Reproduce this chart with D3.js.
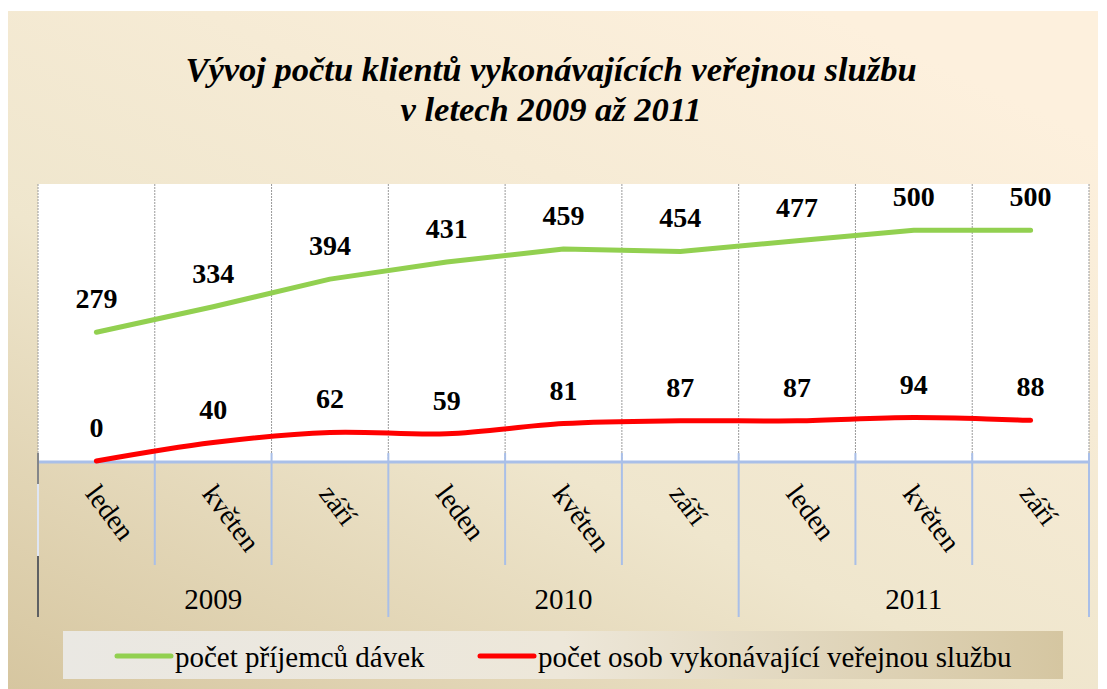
<!DOCTYPE html>
<html>
<head>
<meta charset="UTF-8">
<title>Vývoj počtu klientů</title>
<style>
  body { margin: 0; background: #fff; }
  svg text { font-family: "Liberation Serif", "Times New Roman", serif; }
  .title { font-size: 34.5px; font-weight: bold; font-style: italic; fill: #000; }
  .val { font-size: 28px; font-weight: bold; fill: #000; }
  .month { font-size: 28px; fill: #000; }
  .year { font-size: 29px; fill: #000; }
  .leg { font-size: 29px; fill: #000; }
</style>
<script src="https://d3js.org/d3.v7.min.js"></script>
</head>
<body>
<div id="chart"></div>
<script>
const months = ["leden", "květen", "září", "leden", "květen", "září", "leden", "květen", "září"];
const years = ["2009", "2010", "2011"];
const prijemci = [279, 334, 394, 431, 459, 454, 477, 500, 500];
const osoby = [0, 40, 62, 59, 81, 87, 87, 94, 88];
const seriesNames = ["počet příjemců dávek", "počet osob vykonávající veřejnou službu"];
const seriesColors = ["#92d050", "#ff0000"];

const W = 1107, H = 689;
const plot = { left: 38, right: 1089, top: 184, bottom: 461 };

const svg = d3.select("#chart").append("svg")
  .attr("width", W)
  .attr("height", H);

const defs = svg.append("defs");
const bg = defs.append("linearGradient").attr("id", "bg")
  .attr("x1", "0%").attr("y1", "100%").attr("x2", "75%").attr("y2", "0%");
bg.append("stop").attr("offset", "0%").attr("stop-color", "#d6c6a0");
bg.append("stop").attr("offset", "45%").attr("stop-color", "#efe6cd");
bg.append("stop").attr("offset", "100%").attr("stop-color", "#fdf0dd");

const lg = defs.append("linearGradient").attr("id", "leg")
  .attr("x1", "0%").attr("y1", "0%").attr("x2", "100%").attr("y2", "0%");
lg.append("stop").attr("offset", "0%").attr("stop-color", "#eae8e3");
lg.append("stop").attr("offset", "50%").attr("stop-color", "#ede7d9");
lg.append("stop").attr("offset", "100%").attr("stop-color", "#d5c6a1");

// chart area
svg.append("rect")
  .attr("x", 8).attr("y", 11)
  .attr("width", 1090).attr("height", 678)
  .attr("fill", "url(#bg)");

// plot area
svg.append("rect")
  .attr("x", plot.left).attr("y", plot.top)
  .attr("width", plot.right - plot.left).attr("height", plot.bottom - plot.top)
  .attr("fill", "#fff");

// title
const title = svg.append("text").attr("class", "title").attr("text-anchor", "middle");
title.append("tspan").attr("x", 551).attr("y", 81).text("Vývoj počtu klientů vykonávajících veřejnou službu");
title.append("tspan").attr("x", 551).attr("y", 121).text("v letech 2009 až 2011");

const x = d3.scaleBand()
  .domain(d3.range(months.length))
  .range([plot.left, plot.right]);

const y = d3.scaleLinear()
  .domain([0, 600])
  .range([plot.bottom, plot.top]);

// dotted vertical gridlines
const bounds = d3.range(months.length + 1).map(i => plot.left + i * x.step());
svg.append("g").selectAll("line")
  .data(bounds)
  .enter().append("line")
  .attr("x1", d => d).attr("x2", d => d)
  .attr("y1", plot.top).attr("y2", plot.bottom)
  .attr("stroke", "#9a9a9a")
  .attr("stroke-width", 1)
  .attr("stroke-dasharray", "2,1");

// category axis
const axisCol = "#a9bfe8";
svg.append("line")
  .attr("x1", plot.left).attr("x2", plot.right)
  .attr("y1", plot.bottom + 1).attr("y2", plot.bottom + 1)
  .attr("stroke", axisCol).attr("stroke-width", 3);

svg.append("g").selectAll("line")
  .data(bounds.slice(1))
  .enter().append("line")
  .attr("x1", d => d).attr("x2", d => d)
  .attr("y1", plot.bottom - 8)
  .attr("y2", (d, i) => ((i + 1) % 3 === 0) ? 617 : 565)
  .attr("stroke", axisCol).attr("stroke-width", 2);

// left edge
svg.append("line")
  .attr("x1", plot.left).attr("x2", plot.left)
  .attr("y1", plot.bottom - 8).attr("y2", 617)
  .attr("stroke", "#dfe6f4").attr("stroke-width", 2);
svg.append("line")
  .attr("x1", plot.left).attr("x2", plot.left)
  .attr("y1", 556).attr("y2", 617)
  .attr("stroke", "#333").attr("stroke-width", 1.5);
svg.append("line")
  .attr("x1", plot.left).attr("x2", plot.left)
  .attr("y1", plot.bottom - 8).attr("y2", 484)
  .attr("stroke", "#666").attr("stroke-width", 1.5);

// month labels
svg.append("g").selectAll("text")
  .data(months)
  .enter().append("text")
  .attr("class", "month")
  .attr("transform", (d, i) => "translate(" + (x(i) + x.bandwidth() / 2 - 12) + "," + 494 + ") rotate(53)")
  .text(d => d);

// year labels
svg.append("g").selectAll("text")
  .data(years)
  .enter().append("text")
  .attr("class", "year")
  .attr("text-anchor", "middle")
  .attr("x", (d, i) => x(i * 3) + x.step() * 1.5)
  .attr("y", 609)
  .text(d => d);

// lines
const lineGreen = d3.line()
  .x((d, i) => x(i) + x.bandwidth() / 2)
  .y(d => y(d))
  .curve(d3.curveLinear);
const lineRed = d3.line()
  .x((d, i) => x(i) + x.bandwidth() / 2)
  .y(d => y(d))
  .curve(d3.curveCatmullRom.alpha(0.5));

svg.append("path")
  .datum(prijemci)
  .attr("d", lineGreen)
  .attr("fill", "none")
  .attr("stroke", seriesColors[0])
  .attr("stroke-width", 5)
  .attr("stroke-linecap", "round")
  .attr("stroke-linejoin", "round");

svg.append("path")
  .datum(osoby)
  .attr("d", lineRed)
  .attr("fill", "none")
  .attr("stroke", seriesColors[1])
  .attr("stroke-width", 5)
  .attr("stroke-linecap", "round")
  .attr("stroke-linejoin", "round");

// data labels
[prijemci, osoby].forEach(s => {
  svg.append("g").selectAll("text")
    .data(s)
    .enter().append("text")
    .attr("class", "val")
    .attr("text-anchor", "middle")
    .attr("x", (d, i) => x(i) + x.bandwidth() / 2)
    .attr("y", d => y(d) - 24)
    .text(d => d);
});

// legend
svg.append("rect")
  .attr("x", 63).attr("y", 631)
  .attr("width", 1000).attr("height", 48)
  .attr("fill", "url(#leg)");

const legX = [117, 480];
seriesNames.forEach((n, i) => {
  svg.append("line")
    .attr("x1", legX[i]).attr("x2", legX[i] + 54)
    .attr("y1", 656).attr("y2", 656)
    .attr("stroke", seriesColors[i])
    .attr("stroke-width", 5)
    .attr("stroke-linecap", "round");
  svg.append("text")
    .attr("class", "leg")
    .attr("x", legX[i] + 58)
    .attr("y", 667)
    .text(n);
});
</script>
</body>
</html>
